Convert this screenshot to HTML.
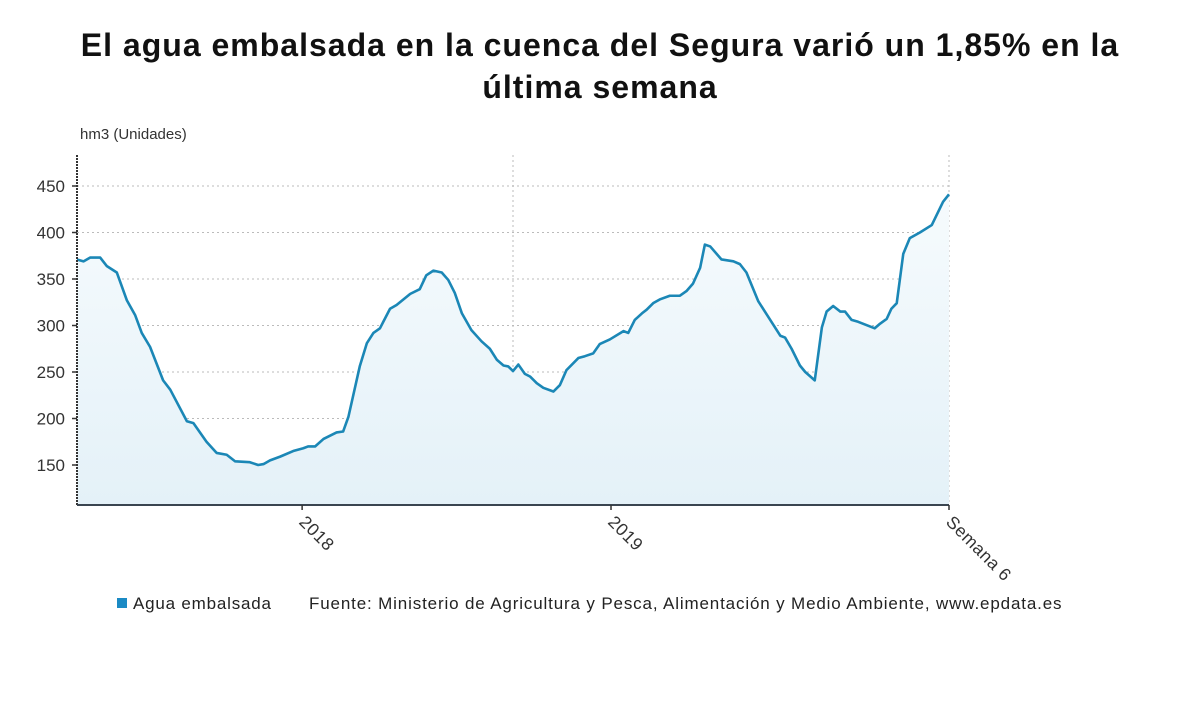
<!DOCTYPE html>
<html><head><meta charset="utf-8">
<style>
body{margin:0;background:#fff;width:1200px;height:705px;overflow:hidden;font-family:"Liberation Sans",sans-serif;}
#title{position:absolute;left:0;top:24px;width:1200px;text-align:center;font-weight:bold;font-size:32px;letter-spacing:1px;line-height:42px;color:#111;}
svg{position:absolute;left:0;top:0;}
</style></head>
<body>
<div id="title">El agua embalsada en la cuenca del Segura varió un 1,85% en la<br>última semana</div>
<svg id="chart" width="1200" height="705">
<defs><linearGradient id="fillg" x1="0" y1="0" x2="0" y2="1"><stop offset="0" stop-color="#f6fbfd"/><stop offset="1" stop-color="#e4f1f8"/></linearGradient></defs>
</svg>
<script>
const weeks=[0,1.1,2.2,3.9,5,6.7,8.4,9.8,10.9,12.3,14.5,15.7,18.5,19.6,21.8,23.5,25.2,26.6,29.1,30.5,31.4,32.5,34.2,36.4,38.1,38.9,40.1,41.5,43.7,44.8,45.7,47.6,48.8,49.9,51,52.7,53.8,56.1,57.7,58.8,60,61.4,62.5,63.6,64.8,66.4,68.1,69.5,70.7,71.8,72.6,73.4,74.3,75.4,76.3,77.4,78.5,80.2,81.3,82.4,84.4,85.5,86.9,88,89.7,92,92.8,93.9,95.1,95.9,97,98.1,99.8,101.5,102.6,103.7,104.9,105.7,106.6,108.5,110.5,111.6,112.7,114.7,116.1,118.4,119.2,120.3,121.7,122.6,124.2,125.4,126.2,127.3,128.5,129.3,130.4,131.5,134.3,135.2,136.3,137.1,138,139.1,140.2,141.9,143.9,145.8,146.8];
const values=[371,369,373,373,364,357,327,311,292,277,241,231,197,195,175,163,161,154,153,150,151,155,159,165,168,170,170,178,185,186,202,256,281,292,297,318,322,334,339,354,359,357,349,335,313,295,283,275,263,257,256,251,258,248,245,238,233,229,236,252,265,267,270,280,285,294,292,306,313,317,324,328,332,332,337,345,362,387,385,371,369,366,357,326,312,289,287,275,257,250,241,298,315,321,315,315,306,304,297,302,307,318,324,377,394,400,408,433,441];
const yTicks=[150,200,250,300,350,400,450];
const xTickWeeks=[37.9,89.9,146.8];
const xTickLabels=["2018","2019","Semana 6"];
const gridWeeks=[73.4,146.8];
const X0=77,X1=949,Y0=505,YT=155;
const xs=w=>X0+(w-0)/(146.8-0)*(X1-X0);
const ys=v=>465-(v-150)*0.93;
const svg=document.getElementById('chart');
const NS='http://www.w3.org/2000/svg';
function mk(t,a){const e=document.createElementNS(NS,t);for(const k in a)e.setAttribute(k,a[k]);svg.appendChild(e);return e;}
yTicks.forEach(v=>{
 const g=mk('line',{x1:X0,x2:X1,y1:ys(v),y2:ys(v),stroke:'#bbb','stroke-dasharray':'2,3','stroke-width':1});
 
 
 const tk=mk('line',{x1:X0-5,x2:X0,y1:ys(v),y2:ys(v),stroke:'#333','stroke-width':1.5});
 
 
 const t=mk('text',{x:65,y:ys(v)+6,'text-anchor':'end','font-size':17,fill:'#333'});
 t.textContent=v;
 
 
});
gridWeeks.forEach(w=>{
 const g=mk('line',{x1:xs(w),x2:xs(w),y1:YT,y2:Y0,stroke:'#bbb','stroke-dasharray':'2,3','stroke-width':1});
 
 
});
let d='M'+xs(weeks[0])+','+ys(values[0]);
for(let i=1;i<weeks.length;i++)d+=' L'+xs(weeks[i])+','+ys(values[i]);
const area=mk('path',{d:d+' L'+xs(weeks[weeks.length-1])+','+Y0+' L'+xs(weeks[0])+','+Y0+' Z',fill:'url(#fillg)'});


const line=mk('path',{d:d,fill:'none',stroke:'#1b87b6','stroke-width':2.6,'stroke-linejoin':'round'});


const ya=mk('line',{x1:X0,x2:X0,y1:YT,y2:Y0,stroke:'#333','stroke-width':2,'stroke-dasharray':'2,1'});


const xa=mk('line',{x1:X0,x2:X1,y1:Y0,y2:Y0,stroke:'#3a4550','stroke-width':2});


xTickWeeks.forEach((w,i)=>{
 const tk=mk('line',{x1:xs(w),x2:xs(w),y1:Y0,y2:Y0+5,stroke:'#333','stroke-width':1.5});
 
 
 const t=mk('text',{x:xs(w)-4,y:Y0+18,'font-size':17.5,'letter-spacing':0.5,fill:'#333',transform:'rotate(45 '+(xs(w)-4)+' '+(Y0+18)+')'});
 t.textContent=xTickLabels[i];
 
 
});
const ut=mk('text',{x:80,y:139,'font-size':15,fill:'#333'});
ut.textContent='hm3 (Unidades)';


const ls=mk('rect',{x:117,y:598,width:10,height:10,fill:'#1b8ac4'});


const lt=mk('text',{x:133,y:609,'font-size':17,'letter-spacing':0.8,fill:'#222'});
lt.textContent='Agua embalsada';


const src=mk('text',{x:309,y:609,'font-size':17,'letter-spacing':0.85,fill:'#222'});
src.textContent='Fuente: Ministerio de Agricultura y Pesca, Alimentación y Medio Ambiente, www.epdata.es';


</script>
</body></html>
